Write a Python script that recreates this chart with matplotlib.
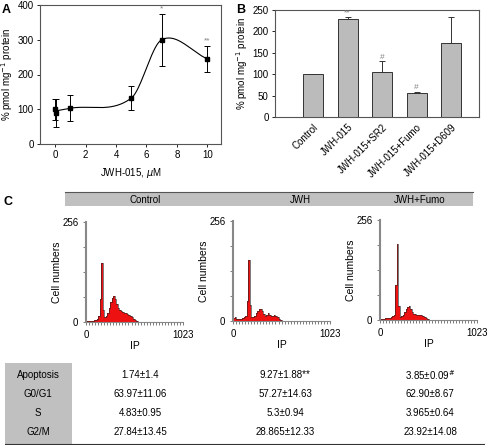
import matplotlib
matplotlib.use('Agg')
import matplotlib.pyplot as plt
import numpy as np

plt.rcParams['font.family'] = ['Liberation Sans', 'DejaVu Sans']
plt.rcParams['font.size'] = 7

W, H = 488, 445

# panel A data
a_x = [0, 0.05, 1, 5, 7, 10]
a_y = [100, 90, 103, 132, 300, 245]
a_err = [30, 40, 38, 35, 75, 37]
a_marks = {7: '*', 10: '**'}

# panel B data
b_labels = ['Control', 'JWH-015', 'JWH-015+SR2', 'JWH-015+Fumo', 'JWH-015+D609']
b_vals = [100, 228, 105, 55, 172]
b_err = [0, 5, 25, 4, 62]
b_marks = ['', '**', '#', '#', '']

# panel C histograms (16-channel bins from 0)
c_titles = ['Control', 'JWH', 'JWH+Fumo']
hist_control = [2, 2, 2, 3, 3, 4, 6, 8, 15, 60, 150, 30, 12, 16, 24, 36, 52, 62, 66, 58,
                46, 36, 30, 28, 26, 24, 22, 20, 18, 16, 12, 8, 4, 2, 1]
hist_jwh = [8, 10, 6, 5, 5, 6, 7, 9, 14, 50, 155, 40, 10, 10, 14, 20, 26, 30, 32, 26,
            18, 14, 16, 20, 16, 12, 14, 16, 14, 10, 6, 3, 1]
hist_fumo = [2, 3, 3, 4, 4, 5, 6, 7, 9, 14, 90, 195, 35, 8, 10, 14, 20, 28, 34, 36, 28,
             20, 16, 15, 14, 14, 13, 12, 10, 8, 5, 3, 1]
c_hists = [hist_control, hist_jwh, hist_fumo]

# table
t_rows = ['Apoptosis', 'G0/G1', 'S', 'G2/M']
t_vals = [['1.74±1.4', '9.27±1.88**', '3.85±0.09$^{\\#}$'],
          ['63.97±11.06', '57.27±14.63', '62.90±8.67'],
          ['4.83±0.95', '5.3±0.94', '3.965±0.64'],
          ['27.84±13.45', '28.865±12.33', '23.92±14.08']]

fig = plt.figure(figsize=(W / 100, H / 100), dpi=100)


def box(x0, y0, x1, y1):
    return [x0 / W, 1 - y1 / H, (x1 - x0) / W, (y1 - y0) / H]


def cardinal_curve(xs, ys, n=40):
    # Catmull-Rom style Hermite curve through the points
    xs = np.asarray(xs, float); ys = np.asarray(ys, float)
    m = np.zeros(len(xs))
    m[0] = (ys[1] - ys[0]) / (xs[1] - xs[0])
    m[-1] = (ys[-1] - ys[-2]) / (xs[-1] - xs[-2])
    for i in range(1, len(xs) - 1):
        m[i] = (ys[i + 1] - ys[i - 1]) / (xs[i + 1] - xs[i - 1])
    px, py = [], []
    for i in range(len(xs) - 1):
        h = xs[i + 1] - xs[i]
        t = np.linspace(0, 1, n)
        h00 = 2 * t**3 - 3 * t**2 + 1; h10 = t**3 - 2 * t**2 + t
        h01 = -2 * t**3 + 3 * t**2; h11 = t**3 - t**2
        px.append(xs[i] + t * h)
        py.append(h00 * ys[i] + h10 * h * m[i] + h01 * ys[i + 1] + h11 * h * m[i + 1])
    return np.concatenate(px), np.concatenate(py)


# ---- A
ax = fig.add_axes(box(40, 5, 221, 144))
ax.errorbar(a_x, a_y, yerr=a_err, fmt='s', color='black', ms=3.5, capsize=2.5, elinewidth=0.7, capthick=0.7)
cx, cy = cardinal_curve([0, 1, 5, 7, 10], [95, 103, 132, 300, 245])
ax.plot(cx, cy, color='black', lw=0.8)
for k, m in a_marks.items():
    j = a_x.index(k)
    ax.text(k, a_y[j] + a_err[j] + 5, m, ha='center', va='bottom', color='gray', fontsize=6)
ax.set_xlim(-1, 10.9)
ax.set_ylim(0, 400)
ax.set_xticks([0, 2, 4, 6, 8, 10])
ax.set_yticks([0, 100, 200, 300, 400])
ax.set_xlabel('JWH-015, $\\mu$M')
ax.set_ylabel('% pmol mg$^{-1}$ protein', labelpad=2)
for s in ax.spines.values():
    s.set_color('#555555')
ax.tick_params(length=2.5, width=0.6, pad=2)
fig.text(2 / W, 1 - 13 / H, 'A', fontsize=9, fontweight='bold')

# ---- B
ax = fig.add_axes(box(275, 10, 479, 117))
pos = np.arange(len(b_vals))
ax.bar(pos, b_vals, width=0.58, color='#bbbbbb', edgecolor='#333333', lw=0.7)
ax.errorbar(pos, b_vals, yerr=[np.zeros(len(b_err)), b_err], fmt='none', ecolor='#333333',
            capsize=2.5, elinewidth=0.7, capthick=0.7)
for p, v, e, m in zip(pos, b_vals, b_err, b_marks):
    if m:
        ax.text(p, v + e + 2, m, ha='center', va='bottom', color='gray', fontsize=6)
ax.set_xlim(-1.1, 4.8)
ax.set_ylim(0, 250)
ax.set_xticks(pos)
ax.set_xticklabels(b_labels, rotation=45, ha='right', rotation_mode='anchor')
ax.set_yticks([0, 50, 100, 150, 200, 250])
ax.set_ylabel('% pmol mg$^{-1}$ protein', labelpad=2)
ax.tick_params(axis='x', length=0)
ax.tick_params(axis='y', length=2.5, width=0.6, pad=2)
for s in ax.spines.values():
    s.set_color('#555555')
fig.text(236 / W, 1 - 13 / H, 'B', fontsize=9, fontweight='bold')

# ---- C header
fig.text(3 / W, 1 - 205 / H, 'C', fontsize=9, fontweight='bold')
hdr = fig.add_axes(box(65, 192, 473, 206))
hdr.set_facecolor('#c0c0c0')
hdr.set_xticks([]); hdr.set_yticks([])
for k, s in hdr.spines.items():
    s.set_visible(k == 'top')
hdr.spines['top'].set_color('#555555')
for xp, t in zip([145, 300, 420], c_titles):
    hdr.text((xp - 65) / 408, 0.45, t, ha='center', va='center', fontsize=7)

for (x0, y0), hist in zip([(86, 222), (233, 221), (380, 220)], c_hists):
    ax = fig.add_axes(box(x0, y0, x0 + 97, y0 + 100))
    edges = np.arange(len(hist) + 1) * 16
    vals = np.array(hist + [0], float)
    ax.fill_between(edges, vals, step='post', color='#ee1111', lw=0)
    ax.step(edges, vals, where='post', color='#222222', lw=0.6, alpha=0.7)
    ax.set_xlim(0, 1023)
    ax.set_ylim(0, 256)
    ax.set_xticks([0, 1023])
    ax.set_xticks(np.arange(0, 1024, 32), minor=True)
    ax.set_yticks([0, 256])
    ax.set_yticks([64, 128, 192], minor=True)
    ax.tick_params(which='both', length=2, width=0.6, color='#666666', labelsize=7)
    ax.tick_params(which='minor', length=2.5)
    ax.spines['top'].set_visible(False)
    ax.spines['right'].set_visible(False)
    ax.spines['left'].set_color('#888888'); ax.spines['left'].set_linewidth(1.5)
    ax.spines['bottom'].set_color('#888888')
    ax.set_xlabel('IP', labelpad=1, fontsize=7.5)
    ax.set_ylabel('Cell numbers', labelpad=0, fontsize=7.5)

# ---- table
tab = fig.add_axes(box(5, 363, 485, 445))
tab.set_xlim(5, 485); tab.set_ylim(445, 363)
tab.axis('off')
tab.fill_between([5, 72], 363, 444, color='#c0c0c0', lw=0)
tab.plot([5, 485], [444, 444], color='#333333', lw=0.8)
for i, (r, vals) in enumerate(zip(t_rows, t_vals)):
    y = 375 + i * 19
    tab.text(38, y, r, ha='center', va='center', fontsize=7)
    for xp, v in zip([140, 285, 430], vals):
        tab.text(xp, y, v, ha='center', va='center', fontsize=7)

fig.savefig('out.png', dpi=100)
